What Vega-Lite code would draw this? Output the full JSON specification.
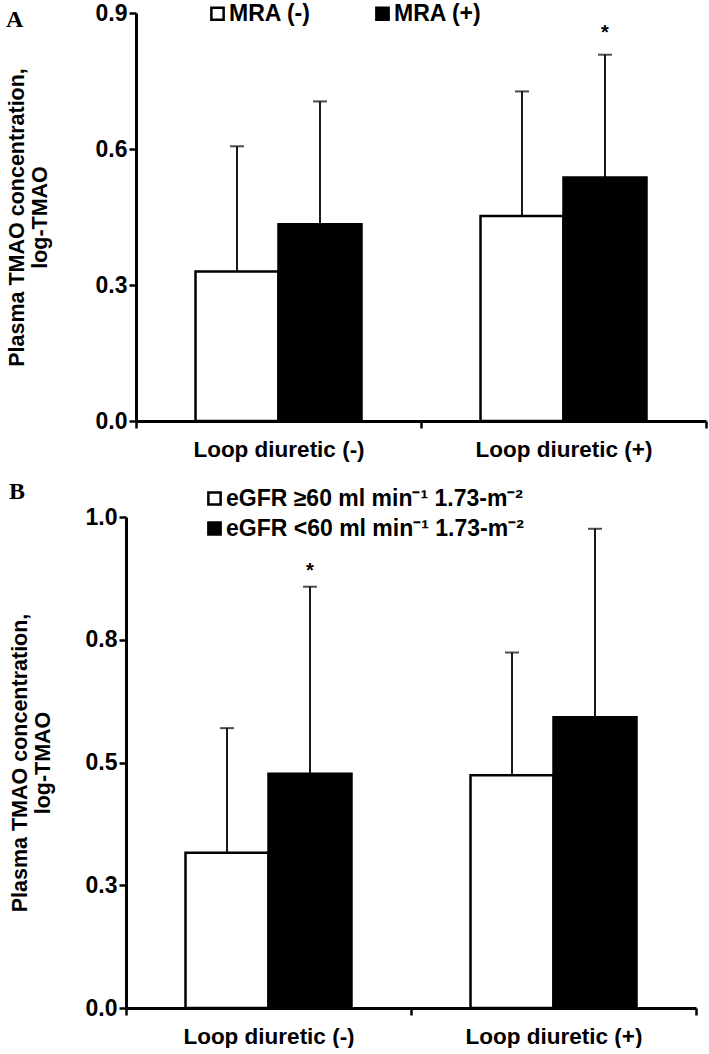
{
  "$schema": "https://vega.github.io/schema/vega-lite/v6.json",
  "background": "white",
  "padding": {"left": 6, "top": 2, "right": 2, "bottom": 0},
  "spacing": 19,
  "resolve": {"scale": {"x": "independent", "y": "independent", "color": "independent", "xOffset": "independent"}, "legend": {"color": "independent"}, "axis": {"x": "independent", "y": "independent"}},
  "config": {
    "font": "Liberation Sans",
    "view": {"stroke": null},
    "axis": {
      "domainColor": "black", "domainWidth": 3, "tickColor": "black", "tickWidth": 2.5, "tickSize": 7,
      "labelColor": "black", "labelFontWeight": "bold", "labelFontSize": 23, "labelLimit": 400, "grid": false,
      "titleColor": "black", "titleFontWeight": "bold", "titleFontSize": 21.5, "titleLineHeight": 23
    },
    "legend": {
      "labelFontSize": 23, "labelFontWeight": "bold", "labelColor": "black", "symbolType": "square", "labelLimit": 400,
      "symbolSize": 150, "symbolStrokeColor": "black", "symbolStrokeWidth": 2.5, "labelOffset": 0, "title": null
    }
  },
  "vconcat": [
    {
      "width": 570, "height": 408,
      "title": {"text": "A", "anchor": "start", "frame": "bounds", "font": "Liberation Serif", "fontSize": 24, "fontWeight": "bold", "color": "black", "offset": -30},
      "data": {"values": [
        {"loop": "Loop diuretic (-)", "group": "MRA (-)", "mean": 0.330, "upper": 0.606, "sig": ""},
        {"loop": "Loop diuretic (-)", "group": "MRA (+)", "mean": 0.434, "upper": 0.705, "sig": ""},
        {"loop": "Loop diuretic (+)", "group": "MRA (-)", "mean": 0.452, "upper": 0.727, "sig": ""},
        {"loop": "Loop diuretic (+)", "group": "MRA (+)", "mean": 0.537, "upper": 0.808, "sig": "*"}
      ]},
      "encoding": {
        "x": {"field": "loop", "type": "nominal", "sort": ["Loop diuretic (-)", "Loop diuretic (+)"],
              "scale": {"paddingInner": 0, "paddingOuter": 0},
              "axis": {"title": null, "labelAngle": 0, "tickBand": "extent", "labelPadding": 10, "labelFontSize": 22.5}},
        "xOffset": {"field": "group", "type": "nominal", "sort": ["MRA (-)", "MRA (+)"],
                    "scale": {"paddingInner": 0, "paddingOuter": 0.717}}
      },
      "layer": [
        {
          "mark": {"type": "bar", "stroke": "black", "strokeWidth": 2.5},
          "encoding": {
            "y": {"field": "mean", "type": "quantitative", "scale": {"domain": [0, 0.9], "nice": false},
                  "axis": {"values": [0, 0.3, 0.6, 0.9], "format": ".1f", "title": ["Plasma TMAO concentration,", "log-TMAO"], "titlePadding": 44}},
            "color": {"field": "group", "type": "nominal", "sort": ["MRA (-)", "MRA (+)"],
                      "scale": {"domain": ["MRA (-)", "MRA (+)"], "range": ["white", "black"]},
                      "legend": {"orient": "none", "legendX": 70, "legendY": -11, "direction": "horizontal", "columnPadding": 60}}
          }
        },
        {
          "mark": {"type": "rule", "color": "black", "strokeWidth": 1.8},
          "encoding": {
            "y": {"field": "mean", "type": "quantitative", "axis": {"values": [0, 0.3, 0.6, 0.9], "format": ".1f", "title": ["Plasma TMAO concentration,", "log-TMAO"], "titlePadding": 44}},
            "y2": {"field": "upper"}
          }
        },
        {
          "mark": {"type": "tick", "color": "black", "thickness": 2, "size": 14},
          "encoding": {"y": {"field": "upper", "type": "quantitative", "axis": {"values": [0, 0.3, 0.6, 0.9], "format": ".1f", "title": ["Plasma TMAO concentration,", "log-TMAO"], "titlePadding": 44}}}
        },
        {
          "mark": {"type": "text", "dy": -22, "fontSize": 20, "fontWeight": "bold", "color": "black"},
          "encoding": {"y": {"field": "upper", "type": "quantitative", "axis": {"values": [0, 0.3, 0.6, 0.9], "format": ".1f", "title": ["Plasma TMAO concentration,", "log-TMAO"], "titlePadding": 44}}, "text": {"field": "sig"}}
        }
      ]
    },
    {
      "width": 560, "height": 491,
      "title": {"text": "B", "anchor": "start", "frame": "bounds", "font": "Liberation Serif", "fontSize": 24, "fontWeight": "bold", "color": "black", "offset": -17},
      "data": {"values": [
        {"loop": "Loop diuretic (-)", "group": "eGFR ≥60 ml min⁻¹  1.73-m⁻²", "mean": 0.316, "upper": 0.570, "sig": ""},
        {"loop": "Loop diuretic (-)", "group": "eGFR <60 ml min⁻¹  1.73-m⁻²", "mean": 0.477, "upper": 0.858, "sig": "*"},
        {"loop": "Loop diuretic (+)", "group": "eGFR ≥60 ml min⁻¹  1.73-m⁻²", "mean": 0.474, "upper": 0.724, "sig": ""},
        {"loop": "Loop diuretic (+)", "group": "eGFR <60 ml min⁻¹  1.73-m⁻²", "mean": 0.592, "upper": 0.976, "sig": ""}
      ]},
      "encoding": {
        "x": {"field": "loop", "type": "nominal", "sort": ["Loop diuretic (-)", "Loop diuretic (+)"],
              "scale": {"paddingInner": 0, "paddingOuter": 0, "range": [-10, 560]},
              "axis": {"title": null, "labelAngle": 0, "tickBand": "extent", "labelPadding": 10, "labelFontSize": 22.5}},
        "xOffset": {"field": "group", "type": "nominal", "sort": ["eGFR ≥60 ml min⁻¹  1.73-m⁻²", "eGFR <60 ml min⁻¹  1.73-m⁻²"],
                    "scale": {"paddingInner": 0, "paddingOuter": 0.717}}
      },
      "layer": [
        {
          "mark": {"type": "bar", "stroke": "black", "strokeWidth": 2.5},
          "encoding": {
            "y": {"field": "mean", "type": "quantitative", "scale": {"domain": [0, 1], "nice": false},
                  "axis": {"values": [0, 0.25, 0.5, 0.75, 1], "format": ".1f", "title": ["Plasma TMAO concentration,", "log-TMAO"], "titlePadding": 31, "offset": 10}},
            "color": {"field": "group", "type": "nominal", "sort": ["eGFR ≥60 ml min⁻¹  1.73-m⁻²", "eGFR <60 ml min⁻¹  1.73-m⁻²"],
                      "scale": {"domain": ["eGFR ≥60 ml min⁻¹  1.73-m⁻²", "eGFR <60 ml min⁻¹  1.73-m⁻²"], "range": ["white", "black"]},
                      "legend": {"orient": "none", "legendX": 67, "legendY": -30, "direction": "vertical", "rowPadding": 6}}
          }
        },
        {
          "mark": {"type": "rule", "color": "black", "strokeWidth": 1.8},
          "encoding": {
            "y": {"field": "mean", "type": "quantitative", "axis": {"values": [0, 0.25, 0.5, 0.75, 1], "format": ".1f", "title": ["Plasma TMAO concentration,", "log-TMAO"], "titlePadding": 31, "offset": 10}},
            "y2": {"field": "upper"}
          }
        },
        {
          "mark": {"type": "tick", "color": "black", "thickness": 2, "size": 14},
          "encoding": {"y": {"field": "upper", "type": "quantitative", "axis": {"values": [0, 0.25, 0.5, 0.75, 1], "format": ".1f", "title": ["Plasma TMAO concentration,", "log-TMAO"], "titlePadding": 31, "offset": 10}}}
        },
        {
          "mark": {"type": "text", "dy": -16, "fontSize": 20, "fontWeight": "bold", "color": "black"},
          "encoding": {"y": {"field": "upper", "type": "quantitative", "axis": {"values": [0, 0.25, 0.5, 0.75, 1], "format": ".1f", "title": ["Plasma TMAO concentration,", "log-TMAO"], "titlePadding": 31, "offset": 10}}, "text": {"field": "sig"}}
        }
      ]
    }
  ]
}
